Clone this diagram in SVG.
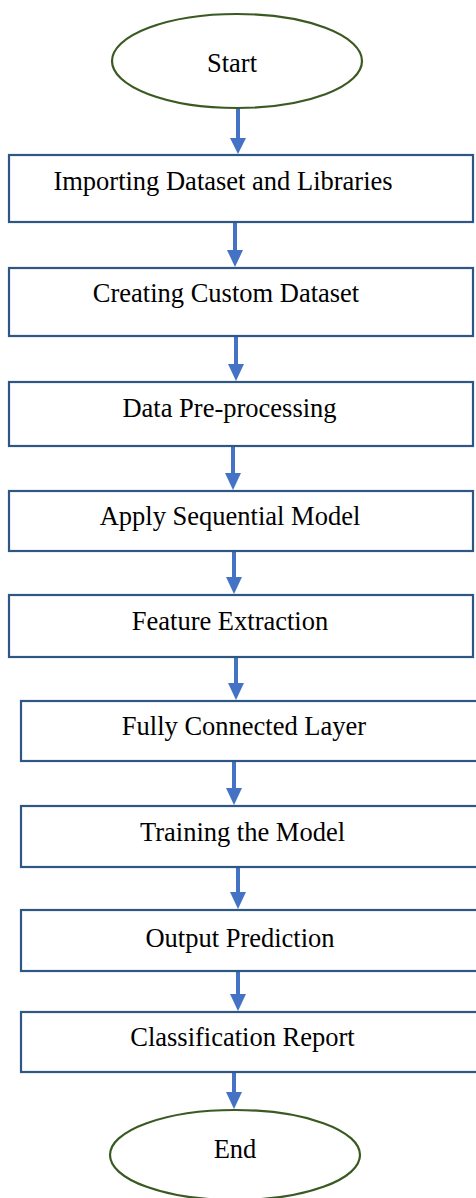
<svg xmlns="http://www.w3.org/2000/svg" width="476" height="1198" viewBox="0 0 476 1198">
<style>
.box{fill:#fff;stroke:#2F5786;stroke-width:2.2}
.term{fill:#fff;stroke:#3B5A22;stroke-width:2.2}
.lbl{font-family:"Liberation Serif","Times New Roman",serif;font-size:26.5px;fill:#000;text-anchor:middle}
.conn{stroke:#4472C4;stroke-width:4;fill:none}
.head{fill:#4472C4}
</style>
<rect width="476" height="1198" fill="#fff"/>
<g id="connectors">
<line class="conn" x1="238" y1="104" x2="238" y2="140"/><polygon class="head" points="230,138 246,138 238,154"/>
<line class="conn" x1="235" y1="222" x2="235" y2="252"/><polygon class="head" points="227,250 243,250 235,267"/>
<line class="conn" x1="236" y1="336" x2="236" y2="366"/><polygon class="head" points="228,364 244,364 236,381"/>
<line class="conn" x1="233" y1="446" x2="233" y2="475"/><polygon class="head" points="225,473 241,473 233,490"/>
<line class="conn" x1="234" y1="551" x2="234" y2="579"/><polygon class="head" points="226,577 242,577 234,594"/>
<line class="conn" x1="236" y1="657" x2="236" y2="685"/><polygon class="head" points="228,683 244,683 236,700"/>
<line class="conn" x1="234" y1="761" x2="234" y2="790"/><polygon class="head" points="226,788 242,788 234,805"/>
<line class="conn" x1="238" y1="867" x2="238" y2="894"/><polygon class="head" points="230,892 246,892 238,909"/>
<line class="conn" x1="238" y1="971" x2="238" y2="996"/><polygon class="head" points="230,994 246,994 238,1011"/>
<line class="conn" x1="234" y1="1069" x2="234" y2="1094"/><polygon class="head" points="226,1092 242,1092 234,1109"/>
</g>
<g id="start"><ellipse class="term" cx="237" cy="61" rx="125" ry="47"/><text class="lbl" x="232" y="72">Start</text></g>
<g id="n1"><rect class="box" x="9" y="155" width="464" height="67"/><text class="lbl" x="223" y="190">Importing Dataset and Libraries</text></g>
<g id="n2"><rect class="box" x="9" y="268" width="464" height="68"/><text class="lbl" x="226" y="302">Creating Custom Dataset</text></g>
<g id="n3"><rect class="box" x="9" y="382" width="464" height="64"/><text class="lbl" x="229.5" y="417">Data Pre-processing</text></g>
<g id="n4"><rect class="box" x="9" y="491" width="464" height="60"/><text class="lbl" x="230" y="525">Apply Sequential Model</text></g>
<g id="n5"><rect class="box" x="9" y="595" width="464" height="62"/><text class="lbl" x="230" y="630">Feature Extraction</text></g>
<g id="n6"><rect class="box" x="21" y="701" width="470" height="60"/><text class="lbl" x="244" y="735">Fully Connected Layer</text></g>
<g id="n7"><rect class="box" x="21" y="806" width="470" height="61"/><text class="lbl" x="242.5" y="841">Training the Model</text></g>
<g id="n8"><rect class="box" x="21" y="910" width="470" height="61"/><text class="lbl" x="240" y="947">Output Prediction</text></g>
<g id="n9"><rect class="box" x="21" y="1012" width="470" height="60"/><text class="lbl" x="242.5" y="1046">Classification Report</text></g>
<g id="end"><ellipse class="term" cx="235" cy="1155" rx="125" ry="45"/><text class="lbl" x="235" y="1158">End</text></g>
</svg>
